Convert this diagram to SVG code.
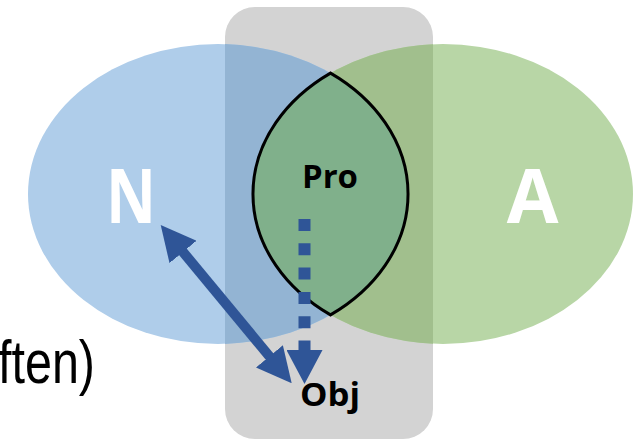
<svg xmlns="http://www.w3.org/2000/svg" width="642" height="441" viewBox="0 0 642 441">
  <style>
    .big { font-family: "Open Sans", "Liberation Sans", sans-serif; font-weight: bold; font-size: 75px; fill: #FFFFFF; text-anchor: middle; }
    .lbl { font-family: "Open Sans", "Liberation Sans", sans-serif; font-weight: bold; font-size: 33px; fill: #000000; text-anchor: middle; }
    .side { font-family: "Liberation Sans", Arial, sans-serif; font-size: 62px; fill: #000000; }
    .conn { stroke: #2F5597; fill: none; }
  </style>
  <defs>
    <clipPath id="boxClip">
      <rect x="225" y="7" width="208" height="432" rx="30" ry="30"/>
    </clipPath>
    <marker id="headBig" viewBox="0 0 35 35" markerWidth="35" markerHeight="35" refX="15" refY="17.5" markerUnits="userSpaceOnUse" orient="auto-start-reverse">
      <path d="M0,0 L35,17.5 L0,35 z" fill="#2F5597"/>
    </marker>
    <marker id="headDot" viewBox="0 0 34 36" markerWidth="34" markerHeight="36" refX="5" refY="18" markerUnits="userSpaceOnUse" orient="auto">
      <path d="M0,0 L34,18 L0,36 z" fill="#2F5597"/>
    </marker>
  </defs>

  <g id="box">
    <rect x="225" y="7" width="208" height="432" rx="30" ry="30" fill="#D3D3D3"/>
  </g>

  <g id="N">
    <ellipse cx="218" cy="194" rx="190" ry="150" fill="#AFCDEA"/>
    <ellipse cx="218" cy="194" rx="190" ry="150" fill="#93B4D3" clip-path="url(#boxClip)"/>
  </g>

  <g id="A">
    <ellipse cx="443" cy="194" rx="190" ry="150" fill="#B8D6A6"/>
    <ellipse cx="443" cy="194" rx="190" ry="150" fill="#A1BF8D" clip-path="url(#boxClip)"/>
  </g>

  <g id="Pro">
    <path d="M330.5,73.1 A190,150 0 0,0 330.5,314.9 A190,150 0 0,0 330.5,73.1 z" fill="#80B08B" stroke="#000000" stroke-width="3" stroke-linejoin="miter"/>
    <text class="lbl" x="330" y="187.5" textLength="56" lengthAdjust="spacingAndGlyphs">Pro</text>
  </g>

  <g id="labels">
    <text class="big" x="131" y="223" textLength="50" lengthAdjust="spacingAndGlyphs">N</text>
    <text class="big" x="532.5" y="223">A</text>
  </g>

  <g id="Obj">
    <text class="lbl" x="330" y="405.5" textLength="60" lengthAdjust="spacingAndGlyphs">Obj</text>
  </g>

  <g id="often">
    <text class="side" x="-2" y="383" textLength="97" lengthAdjust="spacingAndGlyphs">ften)</text>
  </g>

  <g id="connectors">
    <line class="conn" x1="173.45" y1="240.41" x2="278.95" y2="367.89" stroke-width="10" marker-start="url(#headBig)" marker-end="url(#headBig)"/>
    <line class="conn" x1="304.5" y1="219" x2="304.5" y2="355" stroke-width="12" stroke-dasharray="12 12.3" marker-end="url(#headDot)"/>
  </g>
</svg>
